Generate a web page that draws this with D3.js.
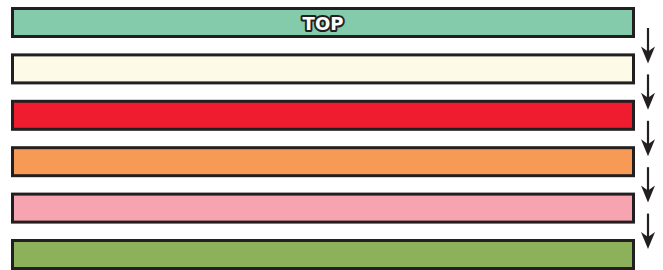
<!DOCTYPE html>
<html>
<head>
<meta charset="utf-8">
<script src="https://cdn.jsdelivr.net/npm/d3@7"></script>
<style>
html,body{margin:0;padding:0;background:#fff;}
svg{display:block;}
</style>
</head>
<body>
<svg id="chart" width="663" height="270"></svg>
<script>
const layers = ["TOP", "layer2", "layer3", "layer4", "layer5", "layer6"];
const labels = ["TOP", "", "", "", "", ""];
const values = [100, 100, 100, 100, 100, 100];
const colors = ["#84cbac", "#fefae8", "#ee1c2e", "#f79a55", "#f5a4b0", "#8db15a"];

const svg = d3.select("#chart");

const x = d3.scaleLinear().domain([0, 100]).range([11, 635]);
const y = d3.scaleBand().domain(layers).range([7, 270]).paddingInner(0.332).paddingOuter(0);

const sw = 3;
svg.selectAll("rect.bar")
  .data(layers)
  .join("rect")
  .attr("class", "bar")
  .attr("x", x(0) + sw / 2)
  .attr("y", d => y(d) + sw / 2)
  .attr("width", (d, i) => x(values[i]) - x(0) - sw)
  .attr("height", y.bandwidth() - sw)
  .attr("fill", (d, i) => colors[i])
  .attr("stroke", "#231f20")
  .attr("stroke-width", sw);

svg.selectAll("text.lbl")
  .data(layers)
  .join("text")
  .attr("class", "lbl")
  .attr("x", (x(0) + x(100)) / 2)
  .attr("y", d => y(d) + y.bandwidth() / 2 + 1)
  .attr("text-anchor", "middle")
  .attr("dominant-baseline", "central")
  .attr("font-family", "'DejaVu Sans', sans-serif")
  .attr("font-weight", "bold")
  .attr("font-size", 18)
  .attr("fill", "#fff")
  .attr("stroke", "#231f20")
  .attr("stroke-width", 4)
  .attr("stroke-linejoin", "round")
  .attr("paint-order", "stroke")
  .text((d, i) => labels[i]);

const ax = 648;
const pairs = d3.pairs(layers);
const g = svg.append("g");
pairs.forEach(([a, b]) => {
  const y0 = y(a) + 21;
  const y1 = y(b) + 10;
  g.append("line")
    .attr("x1", ax).attr("x2", ax)
    .attr("y1", y0).attr("y2", y1 - 8)
    .attr("stroke", "#231f20")
    .attr("stroke-width", 2.2);
  const path = d3.path();
  path.moveTo(ax, y1);
  path.lineTo(ax - 7, y1 - 17);
  path.lineTo(ax, y1 - 12);
  path.lineTo(ax + 7, y1 - 17);
  path.closePath();
  g.append("path").attr("d", path.toString()).attr("fill", "#231f20");
});
</script>
</body>
</html>
